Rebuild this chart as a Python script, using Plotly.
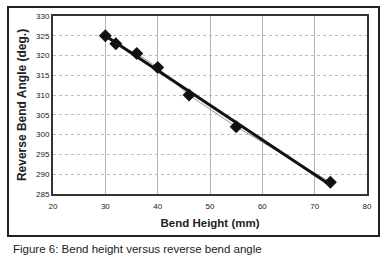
import plotly.graph_objects as go
import numpy as np

bend_height = [30, 32, 36, 40, 46, 55, 73]
reverse_angle = [325, 323, 320.5, 317, 310, 302, 288]
x_ticks = [20, 30, 40, 50, 60, 70, 80]
y_ticks = [285, 290, 295, 300, 305, 310, 315, 320, 325, 330]

coef = np.polyfit(bend_height, reverse_angle, 1)
trend_x = [min(bend_height), max(bend_height)]
trend_y = [coef[0] * v + coef[1] for v in trend_x]

fig = go.Figure()
fig.add_trace(go.Scatter(x=bend_height, y=reverse_angle, mode="lines",
                         line=dict(color="#9a9a9a", width=1), showlegend=False))
fig.add_trace(go.Scatter(x=trend_x, y=trend_y, mode="lines",
                         line=dict(color="#111111", width=3), showlegend=False))
fig.add_trace(go.Scatter(x=bend_height, y=reverse_angle, mode="markers",
                         marker=dict(symbol="diamond", size=10, color="#111111"),
                         showlegend=False))

font = "Liberation Sans, Arial, sans-serif"
fig.update_layout(
    width=384, height=260,
    margin=dict(l=53, r=12, t=16, b=66),
    paper_bgcolor="white", plot_bgcolor="white",
    font=dict(family=font, color="#222222"),
    xaxis=dict(range=[20, 80], tickvals=x_ticks, showgrid=True,
               gridcolor="#b5b5b5", gridwidth=1, zeroline=False,
               showline=True, linecolor="#333333", linewidth=2, mirror=True,
               ticks="", tickfont=dict(size=8), ticklabelstandoff=3,
               title=dict(text="<b>Bend Height (mm)</b>", font=dict(size=11.5), standoff=9)),
    yaxis=dict(range=[285, 330], tickvals=y_ticks, showgrid=True,
               gridcolor="#bbbbbb", gridwidth=1, griddash="dot", zeroline=False,
               showline=True, linecolor="#333333", linewidth=2, mirror=True,
               ticks="", tickfont=dict(size=8),
               title=dict(text="<b>Reverse Bend Angle (deg.)</b>", font=dict(size=12), standoff=7)),
    annotations=[
        dict(text="Figure 6: Bend height versus reverse bend angle",
             xref="paper", yref="paper", x=-43/319, y=-55/178,
             xanchor="left", yanchor="middle", showarrow=False,
             font=dict(size=11.5, color="#222222")),
        dict(text=" ", xref="paper", yref="paper",
             x=(195.5 - 53) / 319, y=(194 - 121.5) / 178,
             xanchor="center", yanchor="middle", showarrow=False,
             width=367, height=225, borderpad=1, borderwidth=2,
             bordercolor="#222222", bgcolor="rgba(0,0,0,0)"),
    ],
)
fig.write_html("out.html", config={"displayModeBar": False},
               post_script="document.body.style.margin='0';document.body.style.overflow='hidden';")
